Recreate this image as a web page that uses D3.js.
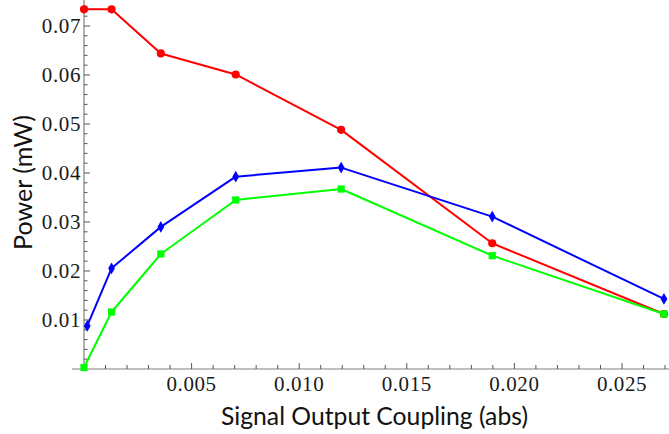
<!DOCTYPE html>
<html>
<head>
<meta charset="utf-8">
<script src="https://cdn.jsdelivr.net/npm/d3@7"></script>
<style>
  html, body { margin: 0; padding: 0; background: #fff; }
  svg { display: block; }
</style>
</head>
<body>
<svg id="chart" width="669" height="434"></svg>
<script>
// Signal output coupling (abs) at which power was measured
const coupling = [0, 0.00128, 0.00357, 0.00705, 0.01195, 0.01897, 0.02695];
const couplingBlue = [0.00015, 0.00128, 0.00357, 0.00705, 0.01195, 0.01897, 0.02695];

// Power (mW) for the three series
const redPower   = [0.0734, 0.0734, 0.0644, 0.0601, 0.0488, 0.02565, 0.01122];
const bluePower  = [0.00878, 0.02055, 0.0290, 0.03925, 0.0411, 0.0311, 0.01429];
const greenPower = [0.0003, 0.01163, 0.02347, 0.0345, 0.03673, 0.02313, 0.01122];

// Tick values
const xTickLabels = [0.005, 0.010, 0.015, 0.020, 0.025];
const yTickLabels = [0.01, 0.02, 0.03, 0.04, 0.05, 0.06, 0.07];

const svg = d3.select("#chart");
const W = 669, H = 434;

const x = d3.scaleLinear().domain([0, 0.0273]).range([84, 84 + 0.0273 * 21520]);
const y = d3.scaleLinear().domain([0, 0.0753]).range([369, 0]);

const axisColor = "#808080";
const tickColor = "#555";
const labelFont = "'Liberation Serif', 'Times New Roman', serif";
const titleFont = "Lato, 'Open Sans', sans-serif";

// ---- Axes ----
const gx = svg.append("g");
gx.append("line")
  .attr("x1", 72).attr("x2", W)
  .attr("y1", y(0)).attr("y2", y(0))
  .attr("stroke", axisColor).attr("stroke-width", 1.2);

const xMinor = d3.range(1, 28).map(i => i * 0.001);
gx.selectAll("line.xt").data(xMinor).join("line")
  .attr("class", "xt")
  .attr("x1", d => x(d)).attr("x2", d => x(d))
  .attr("y1", y(0))
  .attr("y2", (d, i) => y(0) - ((i + 1) % 5 === 0 ? 6 : 4))
  .attr("stroke", tickColor).attr("stroke-width", 1);

gx.selectAll("text").data(xTickLabels).join("text")
  .attr("x", d => x(d)).attr("y", 391)
  .attr("text-anchor", "middle")
  .attr("font-family", labelFont).attr("font-size", 21)
  .attr("letter-spacing", 0.6)
  .attr("fill", "#1a1a1a")
  .text(d => d3.format(".3f")(d));

const gy = svg.append("g");
gy.append("line")
  .attr("x1", x(0)).attr("x2", x(0))
  .attr("y1", 0).attr("y2", y(0))
  .attr("stroke", axisColor).attr("stroke-width", 1.2);

const yMinor = d3.range(1, 38).map(i => i * 0.002);
gy.selectAll("line.yt").data(yMinor).join("line")
  .attr("class", "yt")
  .attr("x1", x(0))
  .attr("x2", (d, i) => x(0) + ((i + 1) % 5 === 0 ? 6 : 3.5))
  .attr("y1", d => y(d)).attr("y2", d => y(d))
  .attr("stroke", tickColor).attr("stroke-width", 1);

gy.selectAll("text").data(yTickLabels).join("text")
  .attr("x", 81).attr("y", d => y(d))
  .attr("dy", "0.35em")
  .attr("text-anchor", "end")
  .attr("font-family", labelFont).attr("font-size", 21)
  .attr("letter-spacing", 0.6)
  .attr("fill", "#1a1a1a")
  .text(d => d3.format(".2f")(d));

// ---- Axis titles ----
svg.append("text")
  .attr("x", 374.5).attr("y", 425)
  .attr("text-anchor", "middle")
  .attr("font-family", titleFont).attr("font-size", 25)
  .attr("textLength", 307).attr("lengthAdjust", "spacingAndGlyphs")
  .attr("fill", "#111")
  .text("Signal Output Coupling (abs)");

svg.append("text")
  .attr("transform", "translate(32,182.5) rotate(-90)")
  .attr("text-anchor", "middle")
  .attr("font-family", titleFont).attr("font-size", 25)
  .attr("textLength", 135).attr("lengthAdjust", "spacingAndGlyphs")
  .attr("fill", "#111")
  .text("Power (mW)");

// ---- Series ----
const series = [
  { name: "red",   xs: coupling,     ys: redPower,   color: "#ff0000", marker: "circle" },
  { name: "blue",  xs: couplingBlue, ys: bluePower,  color: "#0000ff", marker: "diamond" },
  { name: "green", xs: coupling,     ys: greenPower, color: "#00ff00", marker: "square" }
];

const line = d3.line().x(d => x(d[0])).y(d => y(d[1]));
const symbols = {
  circle: d3.symbol().type(d3.symbolCircle).size(52),
  diamond: d3.symbol().type(d3.symbolDiamond).size(40),
  square: d3.symbol().type(d3.symbolSquare).size(52)
};

series.forEach(s => {
  const pts = s.xs.map((v, i) => [v, s.ys[i]]);
  const g = svg.append("g").attr("class", "series-" + s.name);
  g.append("path")
    .attr("d", line(pts))
    .attr("fill", "none")
    .attr("stroke", s.color)
    .attr("stroke-width", 2)
    .attr("stroke-linejoin", "round");
  g.selectAll("path.pt").data(pts).join("path")
    .attr("class", "pt")
    .attr("transform", d => `translate(${x(d[0])},${y(d[1])})`)
    .attr("d", symbols[s.marker]())
    .attr("fill", s.color);
});
</script>
</body>
</html>
